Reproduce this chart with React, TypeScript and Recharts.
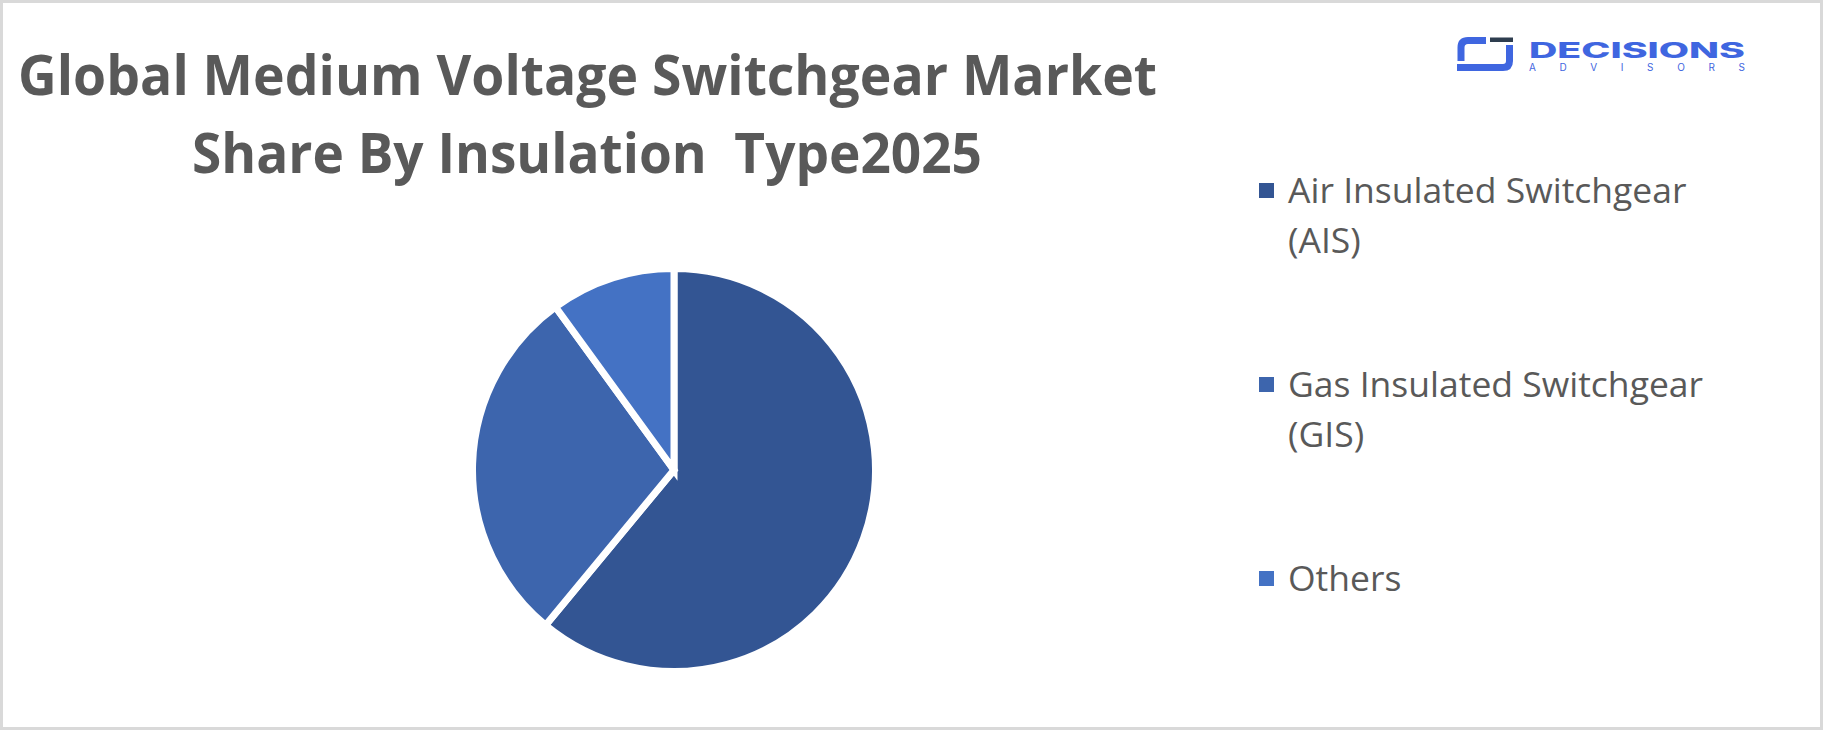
import React from 'react';
import { PieChart, Pie, Cell, Legend } from 'recharts';

const categories = ['Air Insulated Switchgear (AIS)', 'Gas Insulated Switchgear (GIS)', 'Others'];
const shares = [61, 29, 10];
const colors = ['#335593', '#3D65AD', '#4472C4'];
const titleLines = ['Global Medium Voltage Switchgear Market', 'Share By Insulation  Type2025'];

const data = categories.map((name, i) => ({ name, value: shares[i] }));

const TEXT = '#595959';

function renderLegend(props: any) {
  const payload = props.payload || [];
  return (
    <div style={{ position: 'relative', width: 500, height: 480 }}>
      {payload.map((entry: any, i: number) => {
        const label: string = entry.value;
        const idx = label.indexOf(' (');
        const l1 = idx >= 0 ? label.slice(0, idx) : label;
        const l2 = idx >= 0 ? label.slice(idx + 1) : null;
        const top = i * 194;
        return (
          <div key={i}>
            <div
              style={{
                position: 'absolute',
                left: 0,
                top: top + 19,
                width: 15,
                height: 15,
                background: entry.color,
              }}
            />
            <div
              style={{
                position: 'absolute',
                left: 29,
                top: top,
                fontFamily: '"Open Sans", sans-serif',
                fontSize: 35.5,
                lineHeight: '50px',
                color: TEXT,
                whiteSpace: 'nowrap',
              }}
            >
              <div>{l1}</div>
              {l2 && <div>{l2}</div>}
            </div>
          </div>
        );
      })}
    </div>
  );
}

function Logo() {
  const blue = '#3F66E0';
  return (
    <svg
      width={320}
      height={60}
      style={{ position: 'absolute', left: 1450, top: 25 }}
      viewBox="1450 25 320 60"
    >
      <path
        d="M1486 40.5 H1468 Q1461 40.5 1461 47.5 V61"
        fill="none"
        stroke={blue}
        strokeWidth={7}
      />
      <path
        d="M1457 67.5 H1503 Q1509.5 67.5 1509.5 61 V45"
        fill="none"
        stroke={blue}
        strokeWidth={7}
      />
      <rect x={1490} y={37.5} width={23} height={4.5} fill="#2E3D4F" />
      <text
        x={1529}
        y={58}
        fontFamily="Inter, Roboto, sans-serif"
        fontWeight={800}
        fontSize={21}
        fill={blue}
        textLength={216}
        lengthAdjust="spacingAndGlyphs"
      >
        DECISIONS
      </text>
      <text
        x={1529}
        y={71}
        fontFamily="Inter, Roboto, sans-serif"
        fontWeight={400}
        fontSize={10}
        fill={blue}
        textLength={216}
        lengthAdjust="spacing"
      >
        ADVISORS
      </text>
    </svg>
  );
}

function Title() {
  return (
    <svg width={1823} height={200} style={{ position: 'absolute', left: 0, top: 0 }}>
      <text
        x={18}
        y={95}
        fontFamily='"Open Sans", sans-serif'
        fontWeight={700}
        fontSize={56}
        fill={TEXT}
        textLength={1139}
        lengthAdjust="spacingAndGlyphs"
      >
        {titleLines[0]}
      </text>
      <text
        x={192}
        y={173}
        fontFamily='"Open Sans", sans-serif'
        fontWeight={700}
        fontSize={56}
        fill={TEXT}
        textLength={790}
        lengthAdjust="spacingAndGlyphs"
        style={{ whiteSpace: 'pre' }}
      >
        {titleLines[1]}
      </text>
    </svg>
  );
}

export default function App() {
  return (
    <div
      style={{
        position: 'absolute',
        left: 0,
        top: 0,
        width: 1823,
        height: 730,
        boxSizing: 'border-box',
        border: '3px solid #D9D9D9',
        background: '#FFFFFF',
        overflow: 'hidden',
      }}
    >
      <div style={{ position: 'absolute', left: -3, top: -3, width: 1823, height: 730 }}>
        <PieChart width={1823} height={730} margin={{ top: 0, right: 0, bottom: 0, left: 0 }}>
          <Pie
            data={data}
            dataKey="value"
            nameKey="name"
            cx={674}
            cy={470}
            outerRadius={201.5}
            innerRadius={0}
            startAngle={90}
            endAngle={-270}
            stroke="#FFFFFF"
            strokeWidth={7}
            strokeLinejoin="miter"
            isAnimationActive={false}
            legendType="square"
          >
            {data.map((d, i) => (
              <Cell key={d.name} fill={colors[i]} />
            ))}
          </Pie>
          <Legend
            layout="vertical"
            align="right"
            verticalAlign="middle"
            content={renderLegend}
            wrapperStyle={{ position: 'absolute', left: 1259, top: 164, width: 500, height: 480 }}
          />
        </PieChart>
        <Title />
        <Logo />
      </div>
    </div>
  );
}
